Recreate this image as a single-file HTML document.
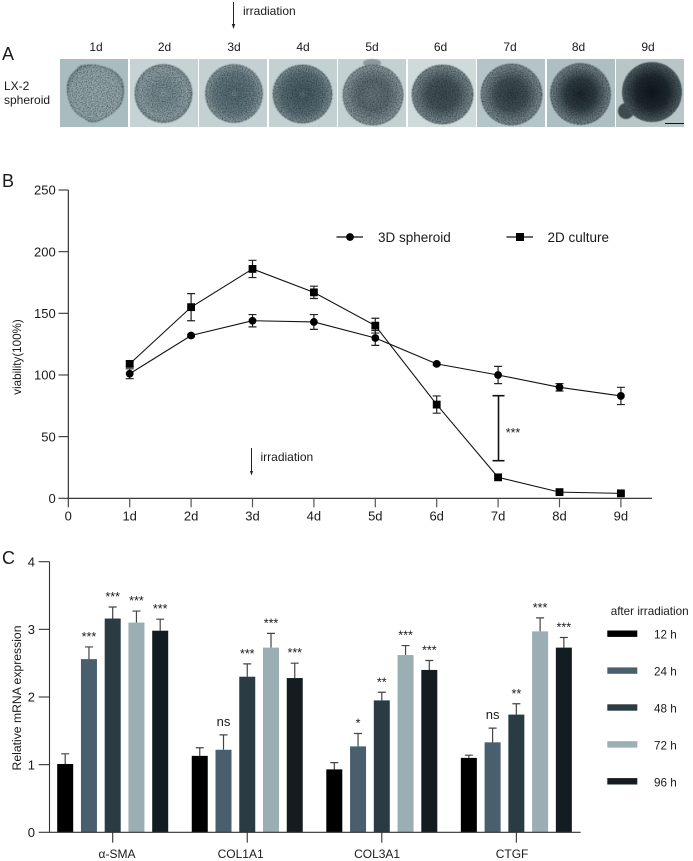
<!DOCTYPE html>
<html lang="en">
<head>
<meta charset="utf-8">
<title>LX-2 spheroid figure</title>
<style>
html,body{margin:0;padding:0;background:#fff;width:693px;height:861px;overflow:hidden}
svg{display:block}
text{font-family:"Liberation Sans",sans-serif;fill:#1a1a1a}
</style>
</head>
<body>
<svg id="fig" xmlns="http://www.w3.org/2000/svg" width="693" height="861" viewBox="0 0 693 861">
<defs>
<filter id="grain" x="-5%" y="-5%" width="110%" height="110%" color-interpolation-filters="sRGB">
<feTurbulence type="fractalNoise" baseFrequency="0.8" numOctaves="2" seed="4" result="n"/>
<feColorMatrix in="n" type="matrix" values="0 0 0 0 0.02  0 0 0 0 0.05  0 0 0 0 0.07  1.1 0 0 0 -0.42" result="c"/>
<feComposite in="c" in2="SourceAlpha" operator="in"/>
</filter>
<filter id="soft" x="-5%" y="-5%" width="110%" height="110%" color-interpolation-filters="sRGB">
<feGaussianBlur stdDeviation="0.6"/>
</filter>
<radialGradient id="s1"><stop offset="0" stop-color="#98abaf"/><stop offset=".9" stop-color="#94a7ab"/><stop offset="1" stop-color="#7f9195"/></radialGradient>
<radialGradient id="s2"><stop offset="0" stop-color="#84989d"/><stop offset=".3" stop-color="#768b91"/><stop offset=".85" stop-color="#8fa1a5"/><stop offset="1" stop-color="#7b8d91"/></radialGradient>
<radialGradient id="s3"><stop offset="0" stop-color="#6d848c"/><stop offset=".18" stop-color="#566c74"/><stop offset=".7" stop-color="#687c83"/><stop offset="1" stop-color="#8a9b9f"/></radialGradient>
<radialGradient id="s4"><stop offset="0" stop-color="#5c727a"/><stop offset=".18" stop-color="#465b63"/><stop offset=".7" stop-color="#5a6f76"/><stop offset="1" stop-color="#7f9195"/></radialGradient>
<radialGradient id="s5"><stop offset="0" stop-color="#68797f"/><stop offset=".5" stop-color="#5e6c71"/><stop offset=".85" stop-color="#7c8c91"/><stop offset="1" stop-color="#8d9b9e"/></radialGradient>
<radialGradient id="s6"><stop offset="0" stop-color="#3c4b51"/><stop offset=".5" stop-color="#46565c"/><stop offset=".85" stop-color="#6f7f84"/><stop offset="1" stop-color="#7d8c90"/></radialGradient>
<radialGradient id="s7"><stop offset="0" stop-color="#324046"/><stop offset=".5" stop-color="#425258"/><stop offset=".85" stop-color="#6f7f84"/><stop offset="1" stop-color="#7d8c90"/></radialGradient>
<radialGradient id="s8"><stop offset="0" stop-color="#1c262a"/><stop offset=".5" stop-color="#303e43"/><stop offset=".85" stop-color="#64747a"/><stop offset="1" stop-color="#75858a"/></radialGradient>
<radialGradient id="s9"><stop offset="0" stop-color="#10171a"/><stop offset=".55" stop-color="#1f2a2e"/><stop offset=".9" stop-color="#47555a"/><stop offset="1" stop-color="#556367"/></radialGradient>
</defs>

<g>
<text x="2" y="60" font-size="18">A</text>
<line x1="233.5" y1="2" x2="233.5" y2="25" stroke="#222" stroke-width="1"/>
<polygon points="231.8,24 235.2,24 233.5,29" fill="#222"/>
<text x="243" y="15" font-size="12">irradiation</text>
<text x="4" y="90" font-size="12">LX-2</text>
<text x="4" y="104" font-size="12">spheroid</text>
<g font-size="12" text-anchor="middle">
<text x="96" y="51">1d</text>
<text x="164.5" y="51">2d</text>
<text x="234" y="51">3d</text>
<text x="303" y="51">4d</text>
<text x="372" y="51">5d</text>
<text x="440.5" y="51">6d</text>
<text x="510" y="51">7d</text>
<text x="578.5" y="51">8d</text>
<text x="648" y="51">9d</text>
</g>
<g>
<rect x="60" y="59" width="68" height="68" fill="#a9bcbf"/>
<path d="M80 66 Q92 63 104 67 Q116 70 122 80 Q126 92 121 104 Q114 114 104 118 Q92 126 84 118 Q72 112 69 100 Q64 84 72 74 Z" fill="url(#s1)" stroke="#5f7074" stroke-width="1" stroke-dasharray="2.5 1" filter="url(#soft)"/>
<path d="M80 66 Q92 63 104 67 Q116 70 122 80 Q126 92 121 104 Q114 114 104 118 Q92 126 84 118 Q72 112 69 100 Q64 84 72 74 Z" filter="url(#grain)"/>
</g>
<g>
<rect x="130" y="59" width="68" height="68" fill="#c5d3d4"/>
<ellipse cx="163.5" cy="93.5" rx="28.5" ry="29" fill="url(#s2)" stroke="#5f7074" stroke-dasharray="2.5 1" filter="url(#soft)"/>
<ellipse cx="163.5" cy="93.5" rx="28.5" ry="29" filter="url(#grain)"/>
</g>
<g>
<rect x="199" y="59" width="68" height="68" fill="#c3d1d3"/>
<ellipse cx="234" cy="93.5" rx="28.5" ry="29" fill="url(#s3)" stroke="#5f7074" stroke-dasharray="2.5 1" filter="url(#soft)"/>
<ellipse cx="234" cy="93.5" rx="28.5" ry="29" filter="url(#grain)"/>
</g>
<g>
<rect x="269" y="59" width="68" height="68" fill="#c3d1d3"/>
<ellipse cx="302.5" cy="94" rx="29.5" ry="29" fill="url(#s4)" stroke="#56666b" stroke-dasharray="2.5 1" filter="url(#soft)"/>
<ellipse cx="302.5" cy="94" rx="29.5" ry="29" filter="url(#grain)"/>
</g>
<g>
<rect x="338" y="59" width="68" height="68" fill="#c3d1d2"/>
<ellipse cx="372" cy="63" rx="9" ry="4" fill="#8a989b" filter="url(#soft)"/>
<ellipse cx="373" cy="95" rx="30" ry="30" fill="url(#s5)" stroke="#56666b" stroke-dasharray="2.5 1" filter="url(#soft)"/>
<ellipse cx="373" cy="95" rx="30" ry="30" filter="url(#grain)"/>
</g>
<g>
<rect x="408" y="59" width="68" height="68" fill="#cfdbdb"/>
<ellipse cx="442.5" cy="94.5" rx="30.5" ry="29.5" fill="url(#s6)" stroke="#56666b" stroke-dasharray="2.5 1" filter="url(#soft)"/>
<ellipse cx="442.5" cy="94.5" rx="30.5" ry="29.5" filter="url(#grain)"/>
</g>
<g>
<rect x="477" y="59" width="68" height="68" fill="#b4c5c9"/>
<ellipse cx="511.5" cy="94.5" rx="30.5" ry="30.5" fill="url(#s7)" stroke="#4d5c60" stroke-dasharray="2.5 1" filter="url(#soft)"/>
<ellipse cx="511.5" cy="94.5" rx="30.5" ry="30.5" filter="url(#grain)"/>
</g>
<g>
<rect x="547" y="59" width="68" height="68" fill="#aebfc3"/>
<ellipse cx="580.5" cy="94" rx="30" ry="30.5" fill="url(#s8)" stroke="#4d5c60" stroke-dasharray="2.5 1" filter="url(#soft)"/>
<ellipse cx="580.5" cy="94" rx="30" ry="30.5" filter="url(#grain)"/>
</g>
<g>
<rect x="616" y="59" width="68" height="68" fill="#b9c6c7"/>
<circle cx="626" cy="111" r="8" fill="#3d4a4e" filter="url(#soft)"/>
<ellipse cx="652" cy="92" rx="30" ry="30" fill="url(#s9)" filter="url(#soft)"/>
<ellipse cx="652" cy="92" rx="30" ry="30" filter="url(#grain)"/>
<line x1="665" y1="123.5" x2="684" y2="123.5" stroke="#111" stroke-width="1"/>
</g>
</g>

<g id="panelB">
<text x="2" y="187" font-size="18">B</text>
<text font-size="11.6" text-anchor="middle" transform="translate(21,357) rotate(-90)">viability(100%)</text>
<line x1="251.5" y1="448" x2="251.5" y2="472" stroke="#222" stroke-width="1"/>
<polygon points="249.9,471 253.1,471 251.5,475.5" fill="#222"/>
<text x="260.5" y="461" font-size="12">irradiation</text>
<line x1="336.5" y1="237" x2="363" y2="237" stroke="#111" stroke-width="1.2"/>
<circle cx="350" cy="237" r="3.9" fill="#000"/>
<text x="378" y="242" font-size="13.5">3D spheroid</text>
<line x1="506.5" y1="237" x2="533" y2="237" stroke="#111" stroke-width="1.2"/>
<rect x="516" y="233" width="8" height="8" fill="#000"/>
<text x="547.5" y="242" font-size="13.5">2D culture</text>
<g stroke="#111" stroke-width="1.6">
<line x1="498.5" y1="395.7" x2="498.5" y2="460.7"/>
<line x1="492.5" y1="395.7" x2="504.5" y2="395.7"/>
<line x1="492.5" y1="460.7" x2="504.5" y2="460.7"/>
</g>
<text x="513" y="437" font-size="12.5" text-anchor="middle">***</text>
</g>

<g id="panelC">
<text x="2" y="564" font-size="18">C</text>
<text font-size="12.2" text-anchor="middle" transform="translate(21,698) rotate(-90)">Relative mRNA expression</text>
<text x="610.7" y="615" font-size="11.7">after irradiation</text>
</g>
</svg>

<script>
var NS = 'http://www.w3.org/2000/svg';

// Panel B data
var dayLabels = ['1d','2d','3d','4d','5d','6d','7d','8d','9d'];
var viabilityTicks = [0,50,100,150,200,250];
var spheroid3d = [101,132,144,143,130,109,100,90,83];
var spheroid3dErr = [4,1,5,6,6,1,7,3,7];
var culture2d = [109,155,186,167,140,76,17,5,4];
var culture2dErr = [2,11,7,5,6,7,1,1,1];

// Panel C data
var genes = ['α-SMA','COL1A1','COL3A1','CTGF'];
var timepoints = ['12 h','24 h','48 h','72 h','96 h'];
var mrnaTicks = [0,1,2,3,4];
var alphaSma = [1.01,2.56,3.16,3.10,2.98];
var alphaSmaErr = [0.15,0.18,0.17,0.17,0.17];
var col1a1 = [1.13,1.22,2.30,2.73,2.28];
var col1a1Err = [0.12,0.22,0.19,0.21,0.22];
var col3a1 = [0.93,1.27,1.95,2.62,2.40];
var col3a1Err = [0.10,0.19,0.12,0.14,0.14];
var ctgf = [1.10,1.33,1.74,2.97,2.73];
var ctgfErr = [0.04,0.21,0.16,0.20,0.15];
var alphaSmaSig = ['','***','***','***','***'];
var col1a1Sig = ['','ns','***','***','***'];
var col3a1Sig = ['','*','**','***','***'];
var ctgfSig = ['','ns','**','***','***'];

function make(tag, parent, attrs, txt) {
  var el = document.createElementNS(NS, tag);
  for (var k in attrs) el.setAttribute(k, attrs[k]);
  if (txt !== undefined) el.textContent = txt;
  parent.appendChild(el);
  return el;
}

/* ---------- Panel B ---------- */
var pB = document.getElementById('panelB');
function bx(i) { return 68.3 + 61.4 * (i + 1); }
function by(v) { return 498.3 - v * (308.3 / 250); }

var axisB = make('path', pB, {d:'M68.3 ' + by(250) + 'V' + by(0) + 'M68.3 ' + by(0) + 'H652', stroke:'#222', 'stroke-width':1.1, fill:'none'});



viabilityTicks.forEach(function (t) {
  var tick = make('line', pB, {x1:58.5, x2:68.3, y1:by(t), y2:by(t), stroke:'#333', 'stroke-width':1.1});
  
  
  var lab = make('text', pB, {x:55.7, y:by(t) + 4.7, 'font-size':13, 'text-anchor':'end'}, String(t));
  
  
});

var zeroTick = make('line', pB, {x1:68.3, x2:68.3, y1:by(0), y2:by(0) + 9, stroke:'#333', 'stroke-width':1.1});


var zeroLab = make('text', pB, {x:68.3, y:520.5, 'font-size':13, 'text-anchor':'middle'}, '0');



dayLabels.forEach(function (d, i) {
  var tick = make('line', pB, {x1:bx(i), x2:bx(i), y1:by(0), y2:by(0) + 9, stroke:'#555', 'stroke-width':1.2});
  
  
  var lab = make('text', pB, {x:bx(i), y:520.5, 'font-size':13, 'text-anchor':'middle'}, d);
  
  
});

function drawSeries(name, values, errs, isSquare) {
  var pts = values.map(function (v, i) { return bx(i) + ',' + by(v); }).join(' ');
  var line = make('polyline', pB, {points:pts, fill:'none', stroke:'#111', 'stroke-width':1.1});
  
  
  values.forEach(function (v, i) {
    var x = bx(i), hi = by(v + errs[i]), lo = by(v - errs[i]);
    var err = make('path', pB, {d:'M' + x + ' ' + hi + 'V' + lo + 'M' + (x - 4) + ' ' + hi + 'H' + (x + 4) + 'M' + (x - 4) + ' ' + lo + 'H' + (x + 4), stroke:'#222', 'stroke-width':1.2, fill:'none'});
    
    
    var m = isSquare
      ? make('rect', pB, {x:x - 3.9, y:by(v) - 3.9, width:7.8, height:7.8, fill:'#000'})
      : make('circle', pB, {cx:x, cy:by(v), r:3.9, fill:'#000'});
    
    
  });
}
drawSeries('spheroid-3d', spheroid3d, spheroid3dErr, false);
drawSeries('culture-2d', culture2d, culture2dErr, true);

/* ---------- Panel C ---------- */
var pC = document.getElementById('panelC');
var barColors = ['#000000','#4a5f6e','#2a3b43','#9aaeb3','#131c20'];
var geneValues = [alphaSma, col1a1, col3a1, ctgf];
var geneErrs = [alphaSmaErr, col1a1Err, col3a1Err, ctgfErr];
var geneSigs = [alphaSmaSig, col1a1Sig, col3a1Sig, ctgfSig];
function gx(g) { return 112.7 + 134.55 * g; }
function cx(g, s) { return gx(g) + (s - 2) * 23.75; }
function cy(v) { return 832.3 - v * (270.6 / 4); }

mrnaTicks.forEach(function (t) {
  var tick = make('line', pC, {x1:38.7, x2:49.5, y1:cy(t), y2:cy(t), stroke:'#333', 'stroke-width':1.1});
  
  
  var lab = make('text', pC, {x:35, y:cy(t) + 4.7, 'font-size':13, 'text-anchor':'end'}, String(t));
  
  
});

genes.forEach(function (gene, g) {
  var key = gene.toLowerCase().replace('α', 'alpha');
  geneValues[g].forEach(function (v, s) {
    var x = cx(g, s), top = cy(v + geneErrs[g][s]);
    var err = make('path', pC, {d:'M' + x + ' ' + cy(v) + 'V' + top + 'M' + (x - 4) + ' ' + top + 'H' + (x + 4), stroke:'#444', 'stroke-width':1.2, fill:'none'});
    
    
    var bar = make('rect', pC, {x:x - 8, y:cy(v), width:16, height:cy(0) - cy(v), fill:barColors[s]});
    
    
    var sig = geneSigs[g][s];
    if (sig) {
      var isNs = sig === 'ns';
      var st = make('text', pC, {x:x, y:top - (isNs ? 9 : 6), 'font-size':isNs ? 13 : 12.5, 'text-anchor':'middle'}, sig);
      
      
    }
  });
  var t = make('line', pC, {x1:gx(g), x2:gx(g), y1:cy(0), y2:842.7, stroke:'#333', 'stroke-width':1.1});
  
  
  var labelShift = [4.3, -6.6, -4.7, -4.3];
  var l = make('text', pC, {x:gx(g) + labelShift[g], y:858, 'font-size':12, 'text-anchor':'middle'}, gene);
  
  
});

var axisC = make('path', pC, {d:'M49.5 ' + cy(4) + 'V' + cy(0) + 'M49.5 ' + cy(0) + 'H580.7', stroke:'#333', 'stroke-width':1.1, fill:'none'});



timepoints.forEach(function (tp, s) {
  var yy = 633.7 + s * 36.9;
  var sw = make('rect', pC, {x:607.3, y:yy - 3.2, width:30, height:6.4, fill:barColors[s]});
  
  
  var lb = make('text', pC, {x:654, y:yy + 5, 'font-size':11.7}, tp);
  
  
});
</script>
</body>
</html>
